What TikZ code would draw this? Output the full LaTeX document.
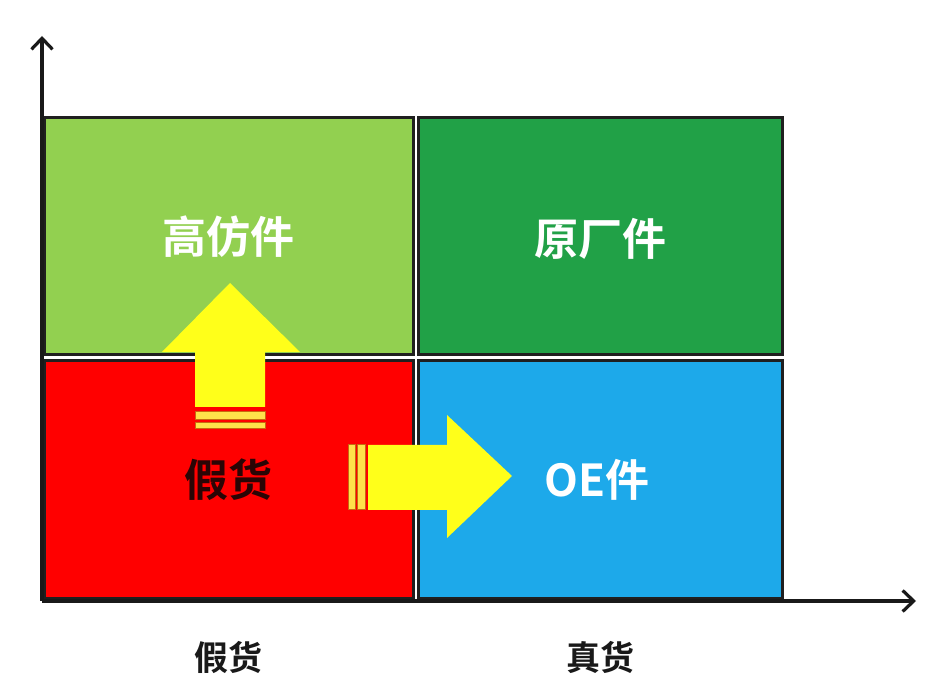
\documentclass[tikz,border=0pt]{standalone}
\usepackage{fontspec}
\newfontfamily\cjk{Noto Sans CJK SC Bold}
\usetikzlibrary{arrows.meta}
\definecolor{lgreen}{HTML}{92D050}
\definecolor{dgreen}{HTML}{21A147}
\definecolor{cred}{HTML}{FF0000}
\definecolor{cblue}{HTML}{1DA9EA}
\definecolor{cyel}{HTML}{FFFF1A}
\definecolor{stripe}{HTML}{FFE24A}
\definecolor{stripeedge}{HTML}{C86A10}
\definecolor{darktext}{HTML}{2A0505}
\tikzset{
  quad/.style={draw=black!88, line width=3pt, inner sep=0pt, minimum width=#1},
  quad/.default=369pt,
  bigtxt/.style={font=\cjk\fontsize{44pt}{48pt}\selectfont, text=white},
  axlabel/.style={font=\cjk\fontsize{34pt}{38pt}\selectfont, text=black!90},
  axis/.style={line width=3.2pt, draw=black!90, -{Straight Barb[length=11pt,width=21pt,line width=3.2pt]}},
  yarrow/.style={fill=cyel, draw=none},
  stripebar/.style={fill=stripe, draw=stripeedge, line width=1pt}
}
\begin{document}
\begin{tikzpicture}[x=1pt,y=-1pt]
\useasboundingbox (0,0) rectangle (930,692);
\fill[white] (0,0) rectangle (930,692);
% boxes
\node[quad, fill=lgreen, minimum height=237pt] (tl) at (228.5,236.5) {};
\node[quad=364pt, fill=dgreen, minimum height=237pt] (tr) at (600,236.5) {};
\node[quad, fill=cred, minimum height=238pt] (bl) at (228.5,480) {};
\node[quad=364pt, fill=cblue, minimum height=238pt] (br) at (600,480) {};
% axes
\coordinate (o) at (42,601);
\coordinate (ytip) at (42,36);
\coordinate (xtip) at (916,601);
\draw[axis] (o) -- (ytip);
\draw[axis] (o) -- (xtip);
% up arrow
\path[yarrow] (195,407) -- (195,352) -- (162,352) -- (230,283) -- (300,352) -- (265,352) -- (265,407) -- cycle;
\draw[stripebar] (195,412) rectangle (265,420);
\draw[stripebar] (195,423) rectangle (265,429);
% right arrow
\path[yarrow] (368,445) -- (447,445) -- (447,415) -- (512,476) -- (447,538) -- (447,510) -- (368,510) -- cycle;
\draw[stripebar] (348,445) rectangle (355,510);
\draw[stripebar] (357,445) rectangle (365,510);
% texts
\node[bigtxt] (t1) at (228,237) {高仿件};
\node[bigtxt] (t2) at (600,239) {原厂件};
\node[bigtxt, text=darktext] (t3) at (228,480) {假货};
\node[bigtxt] (t4) at (597,480) {OE件};
\node[axlabel] (x1) at (228,657) {假货};
\node[axlabel] (x2) at (600,657) {真货};
\end{tikzpicture}
\end{document}
